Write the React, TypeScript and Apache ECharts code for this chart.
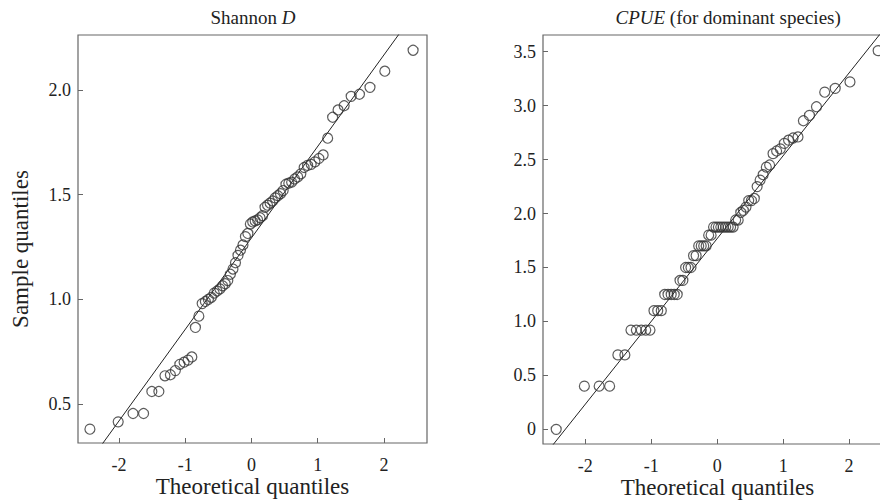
import React, { useEffect, useRef } from "react";
import * as echarts from "echarts";

// Theoretical quantiles (x positions)
const theoretical = [
  -2.44, -2.013, -1.789, -1.63, -1.505, -1.399, -1.307, -1.225, -1.15, -1.082,
  -1.018, -0.958, -0.901, -0.847, -0.795, -0.745, -0.697, -0.651, -0.606, -0.563,
  -0.52, -0.478, -0.437, -0.397, -0.358, -0.319, -0.28, -0.242, -0.204, -0.167,
  -0.129, -0.092, -0.055, -0.018, 0.018, 0.055, 0.092, 0.129, 0.167, 0.204,
  0.242, 0.28, 0.319, 0.358, 0.397, 0.437, 0.478, 0.52, 0.563, 0.606,
  0.651, 0.697, 0.745, 0.795, 0.847, 0.901, 0.958, 1.018, 1.082, 1.15,
  1.225, 1.307, 1.399, 1.505, 1.63, 1.789, 2.013, 2.44,
];

// Sample quantiles, Shannon D
const shannon = [
  0.38, 0.415, 0.455, 0.455, 0.56, 0.56, 0.635, 0.64, 0.66, 0.69,
  0.7, 0.71, 0.725, 0.866, 0.92, 0.98, 0.99, 1.0, 1.01, 1.03,
  1.04, 1.05, 1.065, 1.075, 1.09, 1.12, 1.145, 1.175, 1.21, 1.235,
  1.26, 1.3, 1.315, 1.36, 1.37, 1.375, 1.38, 1.39, 1.4, 1.44,
  1.45, 1.46, 1.47, 1.485, 1.495, 1.505, 1.52, 1.55, 1.555, 1.56,
  1.575, 1.585, 1.6, 1.63, 1.64, 1.645, 1.657, 1.673, 1.69, 1.77,
  1.87, 1.905, 1.925, 1.97, 1.98, 2.013, 2.09, 2.19,
];

// Sample quantiles, CPUE
const cpue = [
  0, 0.4, 0.4, 0.4, 0.69, 0.69, 0.92, 0.92, 0.92, 0.92,
  0.92, 1.1, 1.1, 1.1, 1.25, 1.25, 1.25, 1.25, 1.25, 1.38,
  1.38, 1.5, 1.5, 1.5, 1.61, 1.61, 1.7, 1.7, 1.7, 1.7,
  1.8, 1.8, 1.875, 1.875, 1.875, 1.875, 1.875, 1.875, 1.875, 1.875,
  1.875, 1.94, 1.94, 2.01, 2.03, 2.06, 2.12, 2.12, 2.14, 2.25,
  2.31, 2.36, 2.43, 2.45, 2.555, 2.58, 2.6, 2.65, 2.68, 2.7,
  2.71, 2.86, 2.91, 2.99, 3.125, 3.16, 3.22, 3.51,
];

// Reference lines: [intercept, slope]
const shannonLine = [1.294, 0.437];
const cpueLine = [1.768, 0.768];

// Axis extents
const leftX = [-2.62, 2.65];
const leftY = [0.314, 2.263];
const rightX = [-2.64, 2.65];
const rightY = [-0.136, 3.655];

// Panel titles: [normal-before, italic, normal-after]
const leftTitle = ["Shannon ", "D", ""];
const rightTitle = ["", "CPUE", " (for dominant species)"];

const FAMILY = "Liberation Serif";
const TXT = "#222";
const FRAME = "#666";

function pairs(xs: number[], ys: number[]) {
  return xs.map((x, i) => [x, ys[i]]);
}

function lineData(params: number[], ext: number[]) {
  return ext.map((x) => [x, params[0] + params[1] * x]);
}

function textEl(text: string, x: number, y: number, align: string, italic: boolean) {
  return {
    type: "text",
    x,
    y,
    style: {
      text,
      align,
      verticalAlign: "middle",
      textAlign: align,
      textVerticalAlign: "middle",
      fontFamily: FAMILY,
      fontSize: 19,
      fontStyle: italic ? "italic" : "normal",
      fill: TXT,
    },
  };
}

export default function App() {
  const ref = useRef<HTMLDivElement>(null);

  useEffect(() => {
    if (!ref.current) return;
    const chart = echarts.init(ref.current, undefined, { renderer: "svg" });

    const axisCommon = {
      axisLine: { show: false, onZero: false },
      axisTick: { show: true, inside: true, length: 5, lineStyle: { color: FRAME, width: 1 } },
      splitLine: { show: false },
      nameMoveOverlap: false,
    };
    const labelCommon = {
      color: TXT,
      fontFamily: FAMILY,
      fontSize: 18,
      showMinLabel: false,
      showMaxLabel: false,
    };
    const nameStyle = { color: TXT, fontFamily: FAMILY, fontSize: 23 };

    const gridCommon = {
      show: true,
      borderColor: FRAME,
      borderWidth: 1.2,
      backgroundColor: "transparent",
      containLabel: false,
      outerBoundsMode: "none",
    };

    // split points of the two-part titles (from font metrics at 19px)
    const fs = 19;
    const lSplit = 253 - 85 / 2 + 3.75 * fs; // "Shannon " width
    const rStart = 728 - 225 / 2;
    const rSplit = rStart + 2.611 * fs; // "CPUE" width

    const option: any = {
      animation: false,
      backgroundColor: "#ffffff",
      grid: [
        { ...gridCommon, left: 78, top: 35, width: 349, height: 408 },
        { ...gridCommon, left: 543, top: 35, width: 349, height: 409 },
      ],
      xAxis: [
        {
          type: "value", gridIndex: 0, min: leftX[0], max: leftX[1],
          minInterval: 1, maxInterval: 1,
          ...axisCommon,
          axisLabel: { ...labelCommon, margin: 13 },
          name: "Theoretical quantiles", nameLocation: "middle", nameGap: 32,
          nameTextStyle: nameStyle,
        },
        {
          type: "value", gridIndex: 1, min: rightX[0], max: rightX[1],
          minInterval: 1, maxInterval: 1,
          ...axisCommon,
          axisLabel: { ...labelCommon, margin: 13 },
          name: "Theoretical quantiles", nameLocation: "middle", nameGap: 32,
          nameTextStyle: nameStyle,
        },
      ],
      yAxis: [
        {
          type: "value", gridIndex: 0, min: leftY[0], max: leftY[1],
          minInterval: 0.5, maxInterval: 0.5,
          ...axisCommon,
          axisLabel: { ...labelCommon, margin: 7, formatter: (v: number) => v.toFixed(1) },
          name: "Sample quantiles", nameLocation: "middle", nameGap: 46,
          nameTextStyle: { ...nameStyle, padding: [0, 20, 0, 0] },
        },
        {
          type: "value", gridIndex: 1, min: rightY[0], max: rightY[1],
          minInterval: 0.5, maxInterval: 0.5,
          ...axisCommon,
          axisLabel: { ...labelCommon, margin: 7, formatter: (v: number) => (v === 0 ? "0" : v.toFixed(1)) },
        },
      ],
      graphic: [
        textEl(leftTitle[0], lSplit, 17, "right", false),
        textEl(leftTitle[1], lSplit, 17, "left", true),
        textEl(rightTitle[1], rSplit, 17, "right", true),
        textEl(rightTitle[2], rSplit, 17, "left", false),
      ],
      series: [
        {
          type: "line", xAxisIndex: 0, yAxisIndex: 0,
          data: lineData(shannonLine, leftX),
          showSymbol: false, symbol: "none", clip: true,
          lineStyle: { color: "#222", width: 1 },
          silent: true, z: 2,
        },
        {
          type: "scatter", xAxisIndex: 0, yAxisIndex: 0,
          data: pairs(theoretical, shannon),
          symbol: "circle", symbolSize: 10,
          itemStyle: { color: "none", borderColor: "#333", borderWidth: 1.2 },
          z: 3,
        },
        {
          type: "line", xAxisIndex: 1, yAxisIndex: 1,
          data: lineData(cpueLine, rightX),
          showSymbol: false, symbol: "none", clip: true,
          lineStyle: { color: "#222", width: 1 },
          silent: true, z: 2,
        },
        {
          type: "scatter", xAxisIndex: 1, yAxisIndex: 1,
          data: pairs(theoretical, cpue),
          symbol: "circle", symbolSize: 10,
          itemStyle: { color: "none", borderColor: "#333", borderWidth: 1.2 },
          z: 3,
        },
      ],
    };

    chart.setOption(option);
    return () => chart.dispose();
  }, []);

  return (
    <div style={{ position: "fixed", left: 0, top: 0, width: 880, height: 502, overflow: "hidden", background: "#fff" }}>
      <div ref={ref} style={{ width: 900, height: 502 }} />
    </div>
  );
}
